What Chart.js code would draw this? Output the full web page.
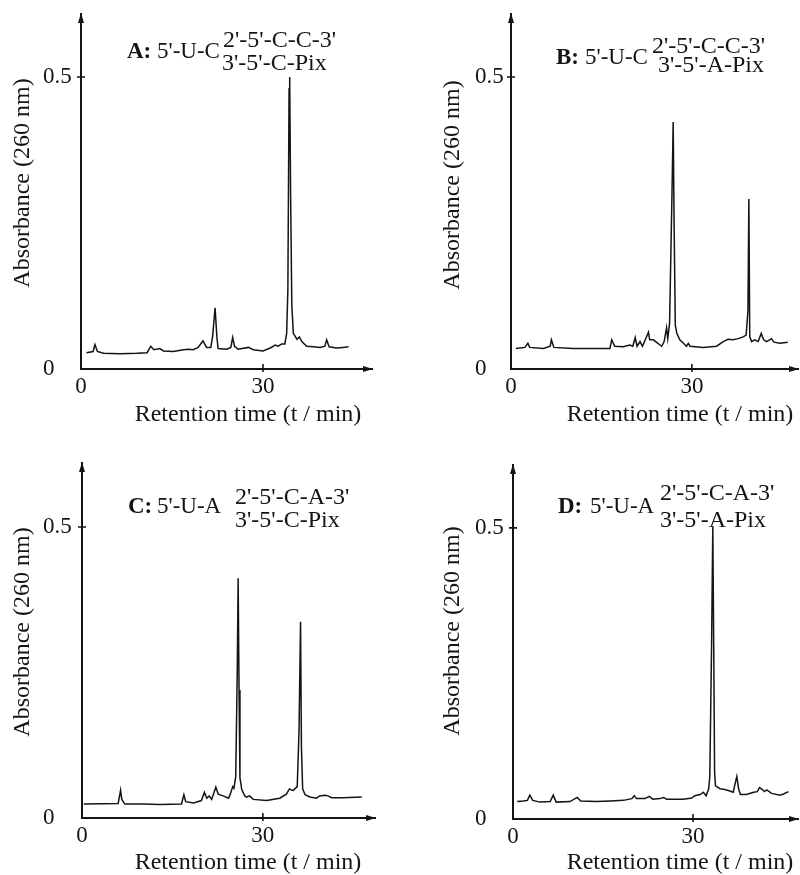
<!DOCTYPE html>
<html><head><meta charset="utf-8">
<script src="https://cdn.jsdelivr.net/npm/chart.js@4.4.1/dist/chart.umd.min.js"></script>
<style>
html,body{margin:0;padding:0;background:#fff;}
#wrap{position:relative;width:800px;height:875px;overflow:hidden;}
canvas{position:absolute;}
</style></head><body>
<div id="wrap">
<canvas id="cA" width="400" height="437" style="left:0;top:0"></canvas>
<canvas id="cB" width="400" height="437" style="left:400px;top:0"></canvas>
<canvas id="cC" width="400" height="438" style="left:0;top:437px"></canvas>
<canvas id="cD" width="400" height="438" style="left:400px;top:437px"></canvas>
</div>
<script>
// ---- data (retention time in min, absorbance at 260 nm) ----
const tA = [0.9,2.0,2.3,2.7,3.7,6.4,9.2,10.9,11.5,12.0,13.0,13.6,15.2,16.9,17.7,18.5,19.3,20.1,20.7,21.4,21.7,22.1,22.4,22.6,24.0,24.7,25.0,25.3,25.9,27.6,28.4,30.0,31.2,32.0,32.5,33.1,33.6,33.9,34.1,34.3,34.4,34.55,34.75,35.0,35.6,36.0,36.4,37.2,38.3,39.4,40.2,40.5,40.9,42.1,43.2,44.1];
const aA = [0.028,0.030,0.042,0.030,0.027,0.026,0.027,0.028,0.039,0.033,0.035,0.031,0.030,0.033,0.034,0.033,0.037,0.048,0.037,0.037,0.056,0.105,0.055,0.035,0.034,0.037,0.054,0.039,0.034,0.037,0.033,0.031,0.036,0.041,0.039,0.043,0.043,0.061,0.135,0.480,0.500,0.300,0.110,0.061,0.051,0.055,0.047,0.039,0.038,0.037,0.039,0.050,0.038,0.036,0.037,0.038];

const tB = [0.8,2.3,2.8,3.1,5.4,6.5,6.7,7.1,10.3,13.1,16.4,16.7,17.2,18.6,19.7,20.2,20.6,20.9,21.4,21.8,22.8,23.0,23.6,24.1,25.0,25.4,25.8,26.0,26.3,26.7,26.9,27.05,27.25,27.5,28.0,28.6,29.1,29.4,29.7,31.9,34.1,35.2,36.0,36.8,37.7,38.5,39.0,39.3,39.45,39.6,39.9,40.4,41.0,41.5,41.9,42.4,43.2,43.6,44.6,45.9];
const aB = [0.035,0.037,0.044,0.037,0.035,0.039,0.050,0.037,0.035,0.035,0.035,0.050,0.039,0.038,0.041,0.039,0.054,0.039,0.047,0.039,0.063,0.050,0.050,0.046,0.039,0.047,0.071,0.052,0.078,0.300,0.423,0.250,0.075,0.061,0.050,0.044,0.039,0.044,0.039,0.037,0.039,0.047,0.051,0.050,0.052,0.055,0.058,0.100,0.291,0.055,0.047,0.050,0.047,0.061,0.050,0.047,0.052,0.046,0.044,0.046];

const tC = [0.3,6.0,6.4,6.6,7.1,10.2,12.9,16.5,16.9,17.2,18.5,19.8,20.3,20.7,21.1,21.5,22.2,22.6,23.4,24.3,24.6,25.0,25.2,25.5,25.75,25.9,26.05,26.2,26.5,27.0,27.3,27.8,28.4,30.6,32.8,33.9,34.4,35.0,35.7,36.0,36.25,36.4,36.6,37.0,37.8,38.9,39.4,40.3,40.8,41.4,43.3,46.4];
const aC = [0.024,0.025,0.048,0.032,0.024,0.024,0.023,0.024,0.040,0.028,0.026,0.030,0.044,0.034,0.038,0.032,0.053,0.041,0.038,0.034,0.041,0.054,0.051,0.071,0.250,0.412,0.220,0.069,0.049,0.038,0.036,0.038,0.032,0.030,0.034,0.041,0.050,0.047,0.054,0.150,0.337,0.120,0.050,0.040,0.036,0.034,0.038,0.039,0.038,0.035,0.035,0.036];

const tD = [0.7,1.7,2.4,2.8,3.3,4.5,6.2,6.7,7.2,9.5,10.7,11.3,13.9,16.2,18.4,19.8,20.2,20.6,22.0,22.7,23.3,24.5,25.1,25.6,28.4,29.8,30.3,31.2,31.7,32.2,32.4,32.6,32.8,33.1,33.3,33.45,33.6,33.75,34.5,35.1,35.9,36.7,37.0,37.3,37.6,37.9,38.9,40.1,40.7,41.1,41.5,41.9,42.3,43.1,44.5,45.1,45.9];
const aD = [0.030,0.031,0.032,0.041,0.032,0.029,0.030,0.041,0.029,0.030,0.037,0.031,0.030,0.031,0.032,0.035,0.040,0.035,0.035,0.039,0.034,0.035,0.037,0.034,0.034,0.036,0.040,0.042,0.046,0.040,0.046,0.051,0.073,0.300,0.502,0.300,0.080,0.057,0.052,0.051,0.049,0.046,0.060,0.073,0.052,0.042,0.042,0.046,0.047,0.054,0.051,0.047,0.050,0.044,0.041,0.043,0.047];

const xTickValues = [0, 30];
const yTickValues = [0, 0.5];
const yTickLabels = ['0', '0.5'];
const xTitleText = 'Retention time (t / min)';
const yTitleText = 'Absorbance (260 nm)';

const panelLetters = ['A:', 'B:', 'C:', 'D:'];
const panelMain = ["5'-U-C", "5'-U-C", "5'-U-A", "5'-U-A"];
const panelUpper = ["2'-5'-C-C-3'", "2'-5'-C-C-3'", "2'-5'-C-A-3'", "2'-5'-C-A-3'"];
const panelLower = ["3'-5'-C-Pix", "3'-5'-A-Pix", "3'-5'-C-Pix", "3'-5'-A-Pix"];

// ---- layout (canvas-local pixels) ----
const layouts = [
  {id:'cA', t:tA, a:aA, padL:43, padT:14, padR:28, yw:38, xh:68, xmax:47.97, ymax:0.608,
   xT:[248,415], yT:[23,183], lx:127, mx:157, ux:223, wx:222, mb:58, ub:47, wb:70},
  {id:'cB', t:tB, a:aB, padL:75, padT:14, padR:2, yw:36, xh:68, xmax:47.6, ymax:0.608,
   xT:[280,415], yT:[53,185], lx:156, mx:185, ux:252, wx:258, mb:64, ub:53, wb:72},
  {id:'cC', t:tC, a:aC, padL:43, padT:26, padR:25, yw:39, xh:57, xmax:48.6, ymax:0.61,
   xT:[248,426], yT:[23,195], lx:128, mx:157, ux:235, wx:235, mb:76, ub:67, wb:90},
  {id:'cD', t:tD, a:aD, padL:75, padT:28, padR:2, yw:38, xh:56, xmax:47.5, ymax:0.608,
   xT:[280,426], yT:[53,194], lx:158, mx:190, ux:260, wx:260, mb:76, ub:63, wb:90}
];

const FONT = "'Liberation Serif', 'Times New Roman', serif";
const FS_TITLE = 24;
const FS_TICK = 23;
const FS_LAB = 23;
const FS_SUB = 24;
const INK = '#141414';

const deco = {
  id: 'deco',
  afterDraw(chart, args, o) {
    const {ctx, chartArea: ca, scales: {x, y}} = chart;
    ctx.save();
    ctx.strokeStyle = INK; ctx.fillStyle = INK; ctx.lineWidth = 1.6;
    // arrow heads
    ctx.beginPath();
    ctx.moveTo(ca.left, ca.top - 1); ctx.lineTo(ca.left - 3, ca.top + 9); ctx.lineTo(ca.left + 3, ca.top + 9);
    ctx.closePath(); ctx.fill();
    ctx.beginPath();
    ctx.moveTo(ca.right + 1, ca.bottom); ctx.lineTo(ca.right - 9, ca.bottom - 3); ctx.lineTo(ca.right - 9, ca.bottom + 3);
    ctx.closePath(); ctx.fill();
    // crossing tick marks
    ctx.beginPath();
    y.ticks.forEach(t => { if (t.value === 0) return; const p = y.getPixelForValue(t.value); ctx.moveTo(ca.left - 4, p); ctx.lineTo(ca.left + 4, p); });
    x.ticks.forEach(t => { if (t.value === 0) return; const p = x.getPixelForValue(t.value); ctx.moveTo(p, ca.bottom - 5); ctx.lineTo(p, ca.bottom + 3); });
    ctx.stroke();
    // axis titles
    ctx.font = FS_TITLE + 'px ' + FONT;
    ctx.textAlign = 'center'; ctx.textBaseline = 'middle';
    ctx.fillText(xTitleText, o.L.xT[0], o.L.xT[1]);
    ctx.save();
    ctx.translate(o.L.yT[0], o.L.yT[1]); ctx.rotate(-Math.PI / 2);
    ctx.fillText(yTitleText, 0, 0);
    ctx.restore();
    // panel label
    ctx.textAlign = 'left'; ctx.textBaseline = 'alphabetic';
    ctx.font = 'bold ' + FS_LAB + 'px ' + FONT;
    ctx.fillText(panelLetters[o.i], o.L.lx, o.L.mb);
    ctx.font = FS_LAB + 'px ' + FONT;
    ctx.fillText(panelMain[o.i], o.L.mx, o.L.mb);
    ctx.font = FS_SUB + 'px ' + FONT;
    ctx.fillText(panelUpper[o.i], o.L.ux, o.L.ub);
    ctx.fillText(panelLower[o.i], o.L.wx, o.L.wb);
    ctx.restore();
  }
};

layouts.forEach((L, i) => {
  const pts = L.t.map((t, k) => ({x: t, y: L.a[k]}));
  new Chart(document.getElementById(L.id), {
    type: 'line',
    data: {datasets: [{data: pts, borderColor: INK, borderWidth: 1.5, pointRadius: 0, tension: 0, fill: false}]},
    options: {
      responsive: false, animation: false, events: [],
      layout: {padding: {left: L.padL, top: L.padT, right: L.padR, bottom: 0}},
      plugins: {legend: {display: false}, tooltip: {enabled: false}, deco: {L: L, i: i}},
      scales: {
        x: {
          type: 'linear', min: 0, max: L.xmax,
          afterBuildTicks: s => { s.ticks = xTickValues.map(v => ({value: v})); },
          afterFit: s => { s.height = L.xh; s.paddingLeft = 0; s.paddingRight = 0; },
          grid: {display: false, drawTicks: false},
          border: {display: true, color: INK, width: 2},
          ticks: {color: INK, font: {family: FONT, size: FS_TICK}, padding: 4, maxRotation: 0,
                  callback: v => String(v)}
        },
        y: {
          type: 'linear', min: 0, max: L.ymax,
          afterBuildTicks: s => { s.ticks = yTickValues.map(v => ({value: v})); },
          afterFit: s => { s.width = L.yw; s.paddingTop = 0; s.paddingBottom = 0; },
          grid: {display: false, drawTicks: false},
          border: {display: true, color: INK, width: 2},
          ticks: {color: INK, font: {family: FONT, size: FS_TICK}, padding: 4, crossAlign: 'far',
                  callback: v => yTickLabels[yTickValues.indexOf(v)]}
        }
      }
    },
    plugins: [deco]
  });
});
</script>
</body></html>
